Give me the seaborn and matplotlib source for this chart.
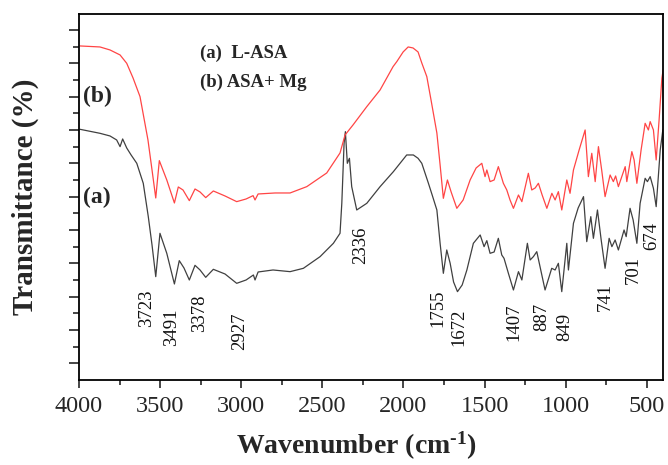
import numpy as np
import pandas as pd
import matplotlib
matplotlib.use("Agg")
import matplotlib.pyplot as plt
import seaborn as sns

# ---- data ----
wn_b = [3994, 3871, 3809, 3747, 3706, 3667, 3624, 3575, 3550, 3527, 3505, 3459, 3412, 3388,
        3359, 3320, 3285, 3254, 3219, 3172, 3100, 3028, 2970, 2927, 2915, 2896, 2791, 2699,
        2596, 2473, 2391, 2360, 2311, 2226, 2144, 2064, 2041, 2002, 1971, 1941, 1910, 1887,
        1856, 1830, 1794, 1774, 1754, 1729, 1706, 1671, 1632, 1589, 1552, 1517, 1497, 1486,
        1466, 1441, 1415, 1384, 1363, 1343, 1322, 1291, 1270, 1230, 1209, 1188, 1168, 1145,
        1116, 1085, 1065, 1045, 1024, 993, 973, 952, 917, 880, 860, 839, 818, 798, 778, 757,
        726, 706, 692, 675, 633, 623, 592, 578, 561, 535, 510, 490, 479, 459, 442, 424, 407, 399]
t_b = [95.2, 94.9, 94.0, 92.5, 90.0, 85.6, 80.0, 67.0, 58.0, 49.6, 60.8, 55.0, 48.1, 52.9,
       52.0, 48.8, 52.3, 51.4, 49.7, 51.7, 50.2, 48.5, 49.3, 50.3, 49.0, 50.8, 51.1, 51.1,
       53.0, 57.1, 63.1, 68.5, 71.5, 77.0, 82.0, 89.0, 90.5, 93.4, 94.9, 94.6, 93.4, 90.1,
       86.0, 79.0, 69.1, 59.5, 49.5, 55.0, 51.4, 46.5, 49.0, 55.0, 58.6, 60.0, 56.0, 58.0,
       54.5, 55.0, 59.0, 54.0, 52.0, 49.0, 46.5, 50.5, 48.5, 57.0, 52.0, 52.6, 54.0, 50.5,
       46.5, 51.0, 49.0, 51.5, 46.0, 55.0, 51.0, 58.0, 64.0, 70.0, 56.0, 63.0, 54.5, 65.0, 58.0, 50.0,
       56.5, 54.5, 56.2, 53.0, 59.0, 54.5, 63.5, 61.0, 54.0, 64.0, 72.0, 70.0, 72.5, 70.0, 61.0, 73.0, 85.5, 88.0]

wn_a = [3994, 3871, 3809, 3768, 3747, 3731, 3706, 3679, 3644, 3604, 3573, 3550, 3527, 3501,
        3459, 3412, 3382, 3353, 3320, 3285, 3254, 3219, 3172, 3100, 3028, 2970, 2925, 2915,
        2896, 2804, 2699, 2617, 2514, 2432, 2391, 2380, 2366, 2358, 2346, 2333, 2319, 2288,
        2226, 2144, 2062, 2021, 1980, 1939, 1910, 1887, 1846, 1823, 1794, 1774, 1754, 1733,
        1712, 1691, 1667, 1638, 1609, 1569, 1527, 1503, 1486, 1466, 1441, 1415, 1394, 1380,
        1353, 1322, 1291, 1270, 1236, 1219, 1199, 1178, 1158, 1127, 1086, 1065, 1045, 1024,
        993, 983, 952, 923, 890, 870, 845, 829, 804, 781, 757, 732, 715, 695, 675, 640, 627,
        603, 584, 561, 541, 510, 496, 479, 459, 442, 417, 401]
t_a = [70.2, 69.0, 68.2, 67.0, 65.0, 67.3, 64.6, 62.5, 60.0, 54.0, 44.0, 35.5, 26.0, 39.0,
       33.0, 23.8, 30.8, 28.6, 25.0, 29.4, 28.0, 25.8, 28.2, 26.8, 24.0, 25.0, 26.5, 25.0,
       27.4, 28.0, 27.5, 28.5, 32.0, 36.0, 39.0, 48.0, 66.0, 69.5, 60.0, 61.5, 53.0, 46.0,
       48.0, 53.0, 57.5, 60.0, 62.5, 62.5, 61.5, 60.0, 54.0, 50.5, 46.0, 36.0, 27.0, 34.0,
       30.0, 24.4, 21.5, 23.5, 28.0, 36.0, 38.5, 35.0, 36.8, 33.0, 33.4, 37.5, 32.5, 31.5,
       27.0, 22.0, 27.5, 25.0, 36.0, 31.0, 32.0, 33.5, 29.0, 22.0, 28.5, 28.0, 30.0, 21.5,
       36.0, 28.0, 42.0, 46.6, 50.0, 36.5, 44.0, 37.5, 46.0, 37.0, 28.5, 37.5, 35.0, 37.0, 34.0, 40.0, 38.0,
       46.5, 43.0, 36.0, 48.0, 55.5, 54.5, 56.0, 52.5, 47.0, 64.0, 70.0]

peak_labels = ["3723", "3491", "3378", "2927", "2336", "1755", "1672", "1407", "887", "849", "741", "701", "674"]
peak_x = [3583, 3428, 3254, 3007, 2267, 1785, 1661, 1322, 1147, 1003, 757, 582, 469]
peak_y = [16.6, 10.9, 15.1, 9.7, 35.5, 16.6, 10.9, 12.4, 13.9, 10.9, 19.9, 28.0, 38.2]

series_names = ["(a)  L-ASA", "(b) ASA+ Mg"]
x_ticks = [4000, 3500, 3000, 2500, 2000, 1500, 1000, 500]

# ---- style ----
sns.set_style("ticks")
plt.rcParams["font.family"] = ["Liberation Serif", "DejaVu Serif"]
plt.rcParams["mathtext.fontset"] = "custom"
plt.rcParams["mathtext.rm"] = "Liberation Serif:bold"
plt.rcParams["mathtext.it"] = "Liberation Serif:bold"
plt.rcParams["mathtext.bf"] = "Liberation Serif:bold"

df = pd.concat([
    pd.DataFrame({"wn": wn_a, "T": t_a, "sample": "a"}),
    pd.DataFrame({"wn": wn_b, "T": t_b, "sample": "b"}),
])

fig = plt.figure(figsize=(6.68, 4.65), dpi=100)
ax = fig.add_axes([0.1183, 0.1828, 0.8742, 0.7872])
sns.lineplot(data=df, x="wn", y="T", hue="sample", palette={"a": "#404040", "b": "#ff4545"},
             estimator=None, sort=True, linewidth=0.9, legend=False, ax=ax)

ax.set_xlim(4000, 400)
ax.set_ylim(-5, 104.8)
ax.set_xticks(x_ticks)
ax.set_xticks(np.arange(3750, 400, -500), minor=True)
ax.set_yticks(np.arange(0, 101, 10))
ax.set_yticks(np.arange(5, 105, 10), minor=True)
ax.set_yticklabels([])
ax.tick_params(axis="x", which="major", length=5.5, width=1.2, labelsize=17.5, pad=6)
ax.tick_params(axis="x", which="minor", length=3.5, width=1.2)
ax.tick_params(axis="y", which="major", length=7, width=1.2)
ax.tick_params(axis="y", which="minor", length=4.5, width=1.2)
for s in ax.spines.values():
    s.set_visible(True)
    s.set_linewidth(1.3)
    s.set_color("black")

ax.set_xlabel(r"Wavenumber (cm$^{\text{-1}}$)", fontsize=20, fontweight="bold")
ax.xaxis.set_label_coords(0.475, -0.135)
ax.set_ylabel("Transmittance (%)", fontsize=21, fontweight="bold", labelpad=18)

for lab, x, y in zip(peak_labels, peak_x, peak_y):
    ax.text(x, y, lab, rotation=90, ha="center", va="center", fontsize=13.5, color="#111111")

ax.text(3975, 80.2, "(b)", fontsize=17, fontweight="bold", ha="left", va="center")
ax.text(3975, 49.9, "(a)", fontsize=17, fontweight="bold", ha="left", va="center")
ax.text(3254, 93.1, series_names[0], fontsize=13.5, fontweight="bold", ha="left", va="center")
ax.text(3254, 84.4, series_names[1], fontsize=13.5, fontweight="bold", ha="left", va="center")

fig.savefig("out.png", dpi=100, facecolor="white")
